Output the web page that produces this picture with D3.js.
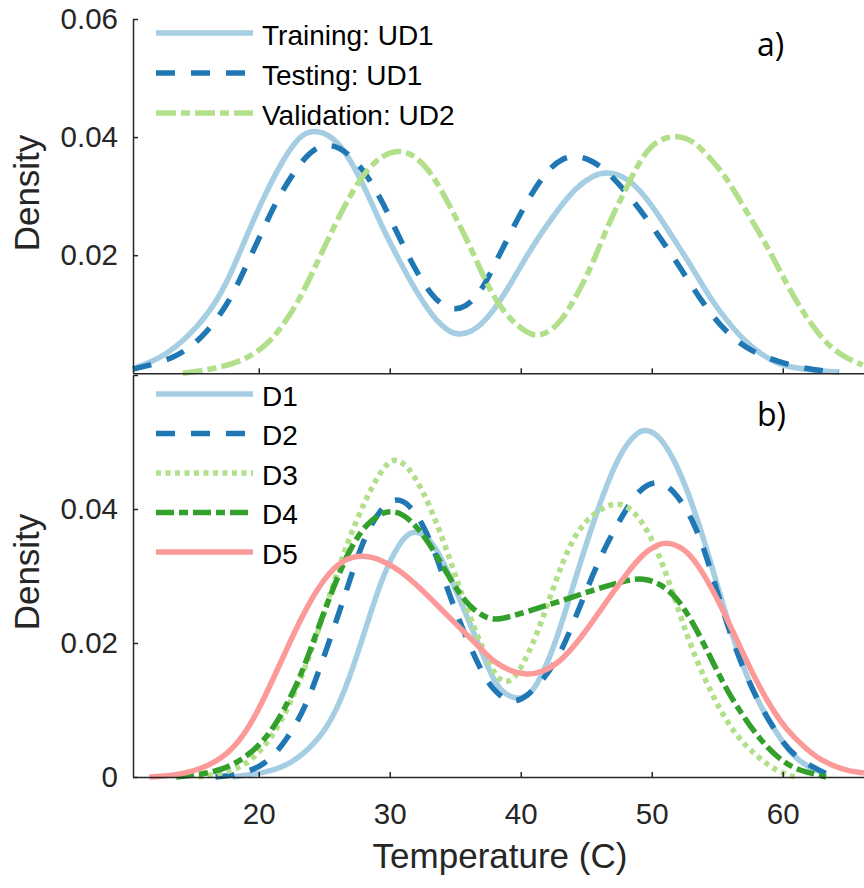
<!DOCTYPE html>
<html>
<head>
<meta charset="utf-8">
<script src="https://cdn.jsdelivr.net/npm/d3@7/dist/d3.min.js"></script>
<style>
  html, body { margin: 0; padding: 0; background: #fff; }
  svg { display: block; }
  .tick text { font-family: "Liberation Sans", Arial, Helvetica, sans-serif; font-size: 29.5px; fill: #262626; }
  .axis path, .axis line { stroke: #262626; stroke-width: 1.5; }
</style>
</head>
<body>
<svg id="chart" width="864" height="888"></svg>
<script>
// Kernel density curves of temperature, as [temperature (C), density] pairs
const trainingUD1 = [[10.4,0.0008],[12.9,0.0028],[15.4,0.0079],[17.0,0.0129],[18.0,0.0175],[19.25,0.0242],[20.5,0.0304],[21.8,0.036],[23.1,0.0403],[24.2,0.0413],[25.6,0.0403],[26.9,0.0366],[28.2,0.031],[29.4,0.0248],[30.7,0.0192],[31.95,0.0141],[33.25,0.0096],[34.5,0.007],[35.3,0.0065],[36.2,0.0070],[37.0,0.0083],[37.9,0.0105],[39.2,0.015],[40.4,0.0197],[41.7,0.0242],[43.0,0.0282],[44.25,0.0315],[45.5,0.0335],[46.55,0.0342],[48.1,0.0332],[49.35,0.0304],[50.6,0.0265],[51.9,0.022],[53.2,0.0175],[54.4,0.0129],[55.7,0.009],[57.0,0.0056],[58.25,0.0034],[59.5,0.0017],[60.8,0.0009],[63.3,0.0003],[64.3,0.0002]];
const testingUD1 = [[10.4,0.0007],[13.7,0.0025],[15.8,0.0062],[17.7,0.0118],[19.0,0.018],[20.3,0.0242],[21.5,0.0299],[23.1,0.0355],[24.3,0.0383],[25.6,0.0389],[26.9,0.0372],[28.2,0.0338],[29.4,0.0293],[30.7,0.0231],[31.95,0.0175],[33.25,0.0129],[34.5,0.0107],[35.8,0.011],[37.05,0.0141],[37.9,0.018],[39.2,0.0237],[40.5,0.0293],[42.0,0.0344],[43.2,0.0365],[44.3,0.0369],[45.5,0.036],[46.8,0.0338],[48.6,0.0293],[50.6,0.0231],[52.15,0.018],[53.9,0.0118],[55.7,0.0068],[57.7,0.0034],[60.8,0.0011],[63.3,0.0003],[64.3,0.0002]];
const validationUD2 = [[14.2,0.0],[16.7,0.0008],[18.7,0.002],[20.5,0.0045],[21.8,0.0079],[23.1,0.0124],[24.3,0.018],[25.6,0.0242],[26.9,0.0299],[28.2,0.0344],[29.4,0.0369],[30.7,0.0379],[31.95,0.0369],[33.25,0.0338],[34.5,0.0287],[35.8,0.0231],[37.05,0.0169],[37.9,0.013],[39.2,0.009],[40.5,0.0068],[41.2,0.0063],[42.0,0.0068],[43.0,0.0085],[44.25,0.013],[45.5,0.0186],[46.8,0.0259],[48.1,0.0315],[49.35,0.0372],[50.6,0.0397],[51.9,0.0403],[53.2,0.0394],[54.4,0.0366],[55.7,0.0332],[57.0,0.0282],[58.25,0.0237],[59.5,0.0186],[60.8,0.013],[62.1,0.0085],[63.3,0.0051],[64.6,0.0028],[66.1,0.0014]];

const d1 = [[18.0,0.0],[20.5,0.0006],[22.55,0.002],[24.3,0.005],[25.6,0.0085],[26.9,0.0145],[28.2,0.0224],[29.4,0.0298],[30.7,0.0349],[31.6,0.0367],[32.5,0.0365],[33.5,0.0344],[34.5,0.0304],[35.8,0.0244],[37.05,0.0185],[37.9,0.0145],[38.7,0.0124],[39.7,0.0116],[40.5,0.012],[41.2,0.0135],[42.5,0.019],[43.75,0.0269],[45.0,0.0349],[46.3,0.0423],[47.55,0.0483],[48.85,0.0515],[49.6,0.0519],[50.6,0.051],[51.9,0.0468],[53.2,0.0403],[54.45,0.0324],[55.7,0.0239],[57.0,0.016],[58.3,0.0105],[59.55,0.0065],[60.8,0.003],[62.1,0.0013],[63.3,0.0005]];
const d2 = [[16.7,0.0],[18.0,0.0002],[20.5,0.0015],[22.3,0.006],[23.6,0.0105],[24.9,0.0175],[26.2,0.0249],[27.2,0.0309],[28.2,0.0365],[29.4,0.0403],[30.45,0.0417],[31.45,0.0408],[32.5,0.0379],[33.5,0.0334],[34.5,0.0274],[35.8,0.0209],[37.05,0.0155],[37.9,0.013],[38.95,0.0113],[39.7,0.0113],[40.45,0.012],[41.7,0.0145],[43.0,0.018],[44.8,0.0269],[46.3,0.0339],[47.85,0.0394],[49.1,0.0431],[50.4,0.0443],[51.6,0.0431],[53.2,0.0384],[54.45,0.0314],[55.7,0.0229],[57.0,0.016],[58.3,0.0105],[59.55,0.0065],[60.8,0.003],[63.3,0.0005]];
const d3Series = [[15.4,0.0],[18.0,0.0008],[19.5,0.0025],[21.05,0.006],[22.3,0.0105],[23.6,0.0165],[24.9,0.0239],[26.2,0.0319],[27.45,0.0384],[28.75,0.0438],[29.75,0.0468],[30.45,0.0476],[31.45,0.0463],[32.5,0.0428],[33.5,0.0384],[34.8,0.0314],[35.8,0.0254],[37.05,0.0194],[37.9,0.0155],[38.7,0.014],[39.4,0.0145],[39.95,0.016],[41.2,0.0209],[42.5,0.0284],[43.75,0.0349],[45.0,0.0384],[46.3,0.0403],[47.55,0.0411],[48.85,0.0394],[50.1,0.0354],[51.4,0.0289],[52.7,0.0209],[53.95,0.015],[55.2,0.01],[56.5,0.006],[57.8,0.0035],[59.05,0.0015],[60.3,0.0003],[61.0,0.0]];
const d4 = [[13.7,0.0],[16.7,0.0006],[18.75,0.0025],[20.5,0.0055],[21.8,0.0095],[23.1,0.0145],[24.3,0.0209],[25.6,0.0279],[26.9,0.0339],[28.2,0.0379],[29.75,0.0399],[31.0,0.0394],[32.3,0.0369],[33.5,0.0334],[34.8,0.0289],[36.05,0.0254],[37.35,0.0237],[38.35,0.0234],[40.45,0.0247],[43.0,0.0262],[45.5,0.0279],[48.1,0.0294],[49.35,0.0297],[50.6,0.0289],[51.9,0.0269],[53.2,0.0229],[54.45,0.018],[55.7,0.013],[57.0,0.009],[58.3,0.0055],[59.55,0.003],[60.8,0.0013],[62.1,0.0006],[63.3,0.0]];
const d5 = [[11.65,0.0],[14.2,0.0003],[16.7,0.002],[18.5,0.005],[20.0,0.01],[21.3,0.0155],[22.55,0.0209],[23.8,0.0259],[25.1,0.0299],[26.35,0.0324],[27.9,0.0332],[29.4,0.0324],[30.7,0.0309],[31.95,0.0289],[33.25,0.0264],[34.5,0.0239],[35.8,0.0214],[37.05,0.019],[37.9,0.0172],[39.2,0.0158],[40.45,0.0152],[41.75,0.0157],[43.0,0.0172],[44.3,0.02],[45.55,0.0234],[46.8,0.0269],[48.1,0.0304],[49.35,0.0334],[50.6,0.0349],[51.4,0.035],[52.7,0.0339],[53.95,0.0304],[55.2,0.0259],[56.5,0.0204],[57.8,0.015],[59.05,0.0105],[60.3,0.007],[61.6,0.0045],[62.85,0.0025],[64.65,0.001],[66.2,0.0006]];

const topNames = ["Training: UD1", "Testing: UD1", "Validation: UD2"];
const bottomNames = ["D1", "D2", "D3", "D4", "D5"];
const xTicks = [20, 30, 40, 50, 60];
const topYTicks = [0.02, 0.04, 0.06];
const bottomYTicks = [0, 0.02, 0.04, 0.06];

// Line styles
const colors = { lightBlue: "#a6cee3", darkBlue: "#1f78b4", lightGreen: "#b2df8a", green: "#33a02c", pink: "#fb9a99" };
const dash = { solid: null, dashed: "19,16", dashDot: "20,5,9,5", dotted: "5,4.5" };

const topSeries = [
  { name: topNames[0], data: trainingUD1, color: colors.lightBlue, dash: dash.solid },
  { name: topNames[1], data: testingUD1, color: colors.darkBlue, dash: dash.dashed },
  { name: topNames[2], data: validationUD2, color: colors.lightGreen, dash: dash.dashDot }
];
const bottomSeries = [
  { name: bottomNames[0], data: d1, color: colors.lightBlue, dash: dash.solid },
  { name: bottomNames[1], data: d2, color: colors.darkBlue, dash: dash.dashed },
  { name: bottomNames[2], data: d3Series, color: colors.lightGreen, dash: dash.dotted },
  { name: bottomNames[3], data: d4, color: colors.green, dash: "18,5,9,5" },
  { name: bottomNames[4], data: d5, color: colors.pink, dash: dash.solid }
];

const svg = d3.select("#chart");
const left = 133, right = 866.6;
const x = d3.scaleLinear().domain([10.4, 66.4]).range([left, right]);
const yTop = d3.scaleLinear().domain([0, 0.06]).range([373.3, 19]);
const yBot = d3.scaleLinear().domain([0, 0.06]).range([777, 375]);

const fmt = d => d === 0 ? "0" : d3.format(".2f")(d);
const lineW = 5.5;

function panel(y, series, yTicks, showXLabels, hideTop, legendTop, tag, tagY) {
  // curves
  const line = d3.line().x(d => x(d[0])).y(d => y(d[1])).curve(d3.curveBasis);
  svg.append("g").selectAll("path").data(series).join("path")
    .attr("d", s => line(s.data))
    .attr("fill", "none")
    .attr("stroke", s => s.color)
    .attr("stroke-width", lineW)
    .attr("stroke-dasharray", s => s.dash)
    .attr("stroke-linejoin", "round");

  // axes with inward ticks
  const yAxis = d3.axisLeft(y).tickValues(yTicks).tickSizeInner(-5).tickSizeOuter(0).tickPadding(15)
    .tickFormat(d => (hideTop && d === 0.06) ? "" : fmt(d));
  svg.append("g").attr("class", "axis").attr("transform", `translate(${left},0)`).call(yAxis);

  const xAxis = d3.axisBottom(x).tickValues(xTicks).tickSizeInner(-5).tickSizeOuter(0).tickPadding(26)
    .tickFormat(d => showXLabels ? d : "");
  svg.append("g").attr("class", "axis").attr("transform", `translate(0,${y(0)})`).call(xAxis);

  // legend
  const lg = svg.append("g");
  series.forEach((s, i) => {
    const ly = legendTop + i * (series.length > 3 ? 39.5 : 40);
    lg.append("line")
      .attr("x1", 156).attr("x2", 253).attr("y1", ly).attr("y2", ly)
      .attr("stroke", s.color).attr("stroke-width", lineW)
      .attr("stroke-dasharray", s.dash);
    lg.append("text")
      .attr("x", 262).attr("y", ly + 11.5)
      .attr("font-family", "'Liberation Sans', Arial, Helvetica, sans-serif")
      .attr("font-size", 28).attr("fill", "#000")
      .text(s.name);
  });

  // panel tag
  svg.append("text")
    .attr("x", 757).attr("y", tagY)
    .attr("font-family", "'Open Sans', sans-serif")
    .attr("font-size", 32).attr("fill", "#000")
    .text(tag);
}

panel(yTop, topSeries, topYTicks, false, false, 33, "a)", 56);
panel(yBot, bottomSeries, bottomYTicks, true, true, 394, "b)", 426);

// axis titles
const titleFont = "'Liberation Sans', Arial, Helvetica, sans-serif";
[193, 572].forEach(cy => {
  svg.append("text")
    .attr("transform", `translate(39,${cy}) rotate(-90)`)
    .attr("text-anchor", "middle")
    .attr("font-family", titleFont).attr("font-size", 35).attr("fill", "#262626")
    .text("Density");
});
svg.append("text")
  .attr("x", 500).attr("y", 868)
  .attr("text-anchor", "middle")
  .attr("font-family", titleFont).attr("font-size", 35).attr("fill", "#262626")
  .text("Temperature (C)");
</script>
</body>
</html>
